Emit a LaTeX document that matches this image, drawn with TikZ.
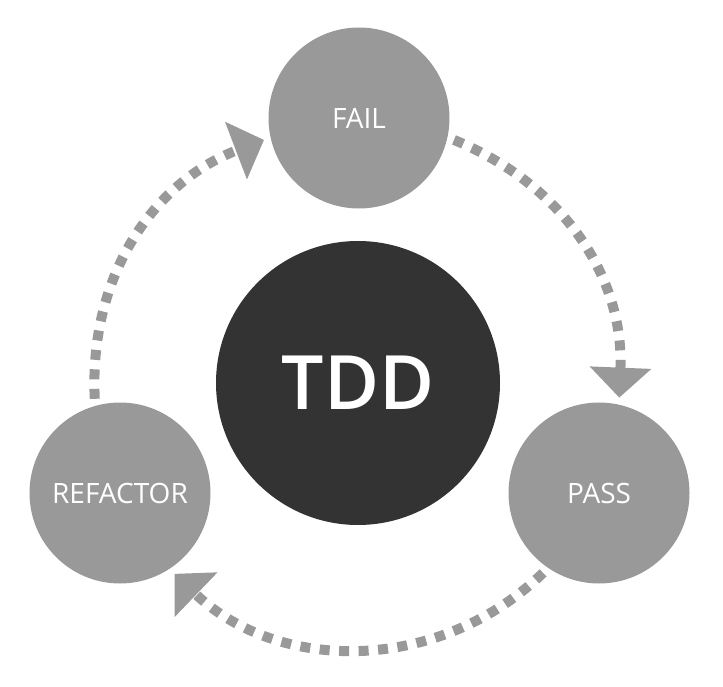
\documentclass[tikz,border=0pt]{standalone}
\usepackage{fontspec}
\setmainfont{Open Sans}
\newfontfamily\hubfont{Open Sans Semibold}
\usepackage{xcolor}
\usetikzlibrary{arrows.meta}

\definecolor{stagegray}{HTML}{999999}
\definecolor{hubgray}{HTML}{333333}

\begin{document}
\begin{tikzpicture}[x=1pt,y=1pt,
		stage/.style={circle,fill=stagegray,text=white,minimum size=181pt,inner sep=0pt,outer sep=7pt,font=\fontsize{28}{32}\selectfont},
		flow/.style={stagegray,line width=10pt,dash pattern=on 10pt off 9.5pt,-{Triangle[length=30pt,width=60pt]}}]
		\useasboundingbox (0,0) rectangle (723,686);
		
		\node[circle,fill=hubgray,text=white,minimum size=284pt,inner sep=0pt,font=\hubfont\fontsize{75}{80}\selectfont] (tdd) at (358,303) {TDD};
		
		\node[stage] (fail) at (359,568) {FAIL};
		\node[stage] (pass) at (599,193) {PASS};
		\node[stage] (refactor) at (120,193) {REFACTOR};
		
		\draw[flow] (fail.-13) to[bend left=35] (pass.78);  % fail -> pass
		\draw[flow] (pass.235) to[bend left=44] (refactor.-56);  % pass -> refactor
		\draw[flow] (refactor.105) to[bend left=36] (fail.193);  % refactor -> fail
		\end{tikzpicture}
\end{document}
